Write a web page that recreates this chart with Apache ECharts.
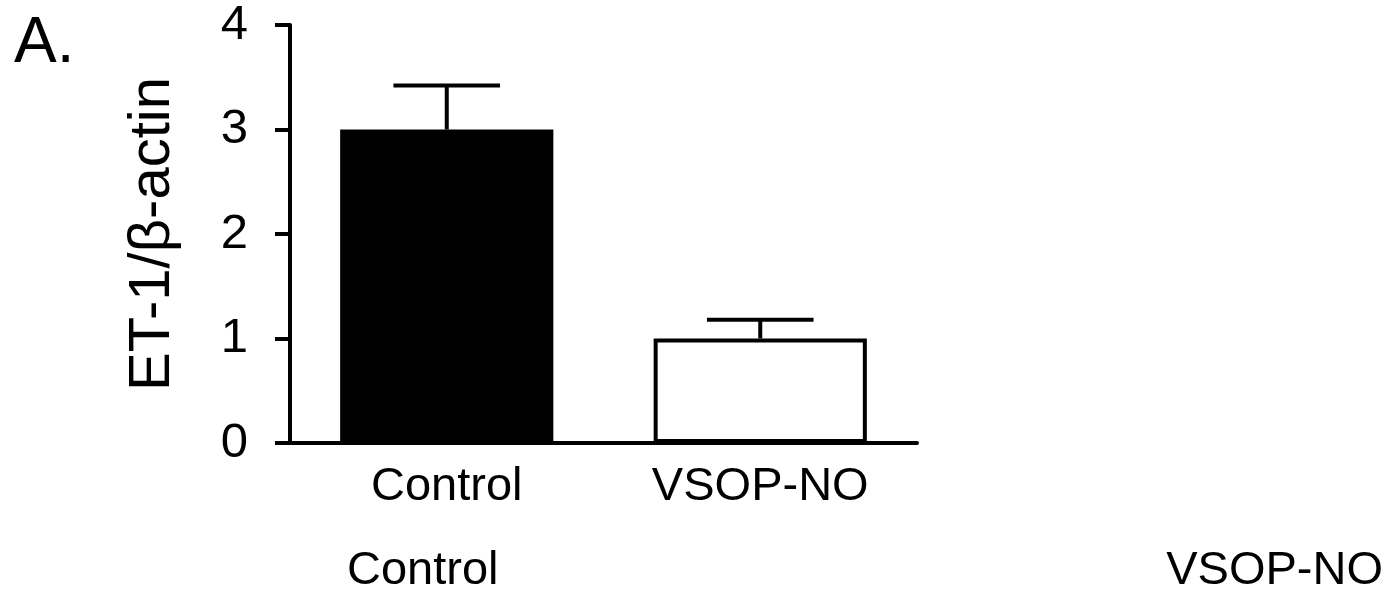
<!DOCTYPE html>
<html>
<head>
<meta charset="utf-8">
<script src="https://cdn.jsdelivr.net/npm/echarts@6/dist/echarts.min.js"></script>
<style>
  html, body { margin: 0; padding: 0; background: #fff; }
  #main { width: 1389px; height: 600px; }
</style>
</head>
<body>
<div id="main"></div>
<script>
// data
var categories = ['Control', 'VSOP-NO'];
var meanValues = [3.0, 1.0];
var semValues = [0.42, 0.18];
var barFills = ['#000000', '#ffffff'];
var yTicks = [0, 1, 2, 3, 4];

var font = 'Liberation Sans, Arial, Helvetica, sans-serif';

var chart = echarts.init(document.getElementById('main'));

var option = {
  backgroundColor: '#fff',
  animation: false,
  grid: { left: 290, right: 472, top: 25, bottom: 157 },
  xAxis: {
    type: 'category',
    data: categories,
    axisLine: { lineStyle: { color: '#000', width: 4 } },
    axisTick: { alignWithLabel: true, length: 12, lineStyle: { color: '#000', width: 4 } },
    axisLabel: { color: '#000', fontSize: 47, fontFamily: font, margin: 21 }
  },
  yAxis: {
    type: 'value',
    min: yTicks[0],
    max: yTicks[yTicks.length - 1],
    interval: 1,
    name: 'ET-1/β-actin',
    nameLocation: 'middle',
    nameGap: 108,
    nameTextStyle: { color: '#000', fontSize: 58, fontFamily: font },
    axisLine: { show: true, lineStyle: { color: '#000', width: 4 } },
    axisTick: { show: true, length: 15, lineStyle: { color: '#000', width: 4 } },
    axisLabel: { color: '#000', fontSize: 49, fontFamily: font, margin: 42 },
    splitLine: { show: false }
  },
  graphic: [
    { type: 'text', left: 14, top: 12,
      style: { text: 'A.', font: '64px ' + font, fill: '#000' } },
    { type: 'text', left: 347, top: 548,
      style: { text: 'Control', font: '47px ' + font, fill: '#000' } },
    { type: 'text', right: 6, top: 548,
      style: { text: 'VSOP-NO', font: '47px ' + font, fill: '#000' } }
  ],
  series: [
    {
      type: 'bar',
      barWidth: '68%',
      data: meanValues.map(function (v, i) {
        return {
          value: v,
          itemStyle: { color: barFills[i], borderColor: '#000', borderWidth: 4 }
        };
      })
    },
    {
      type: 'custom',
      z: 1,
      data: meanValues.map(function (v, i) { return [i, v, v + semValues[i]]; }),
      renderItem: function (params, api) {
        var x = api.value(0);
        var base = api.coord([x, api.value(1)]);
        var top = api.coord([x, api.value(2)]);
        var half = api.size([1, 0])[0] * 0.17;
        var st = { stroke: '#000', lineWidth: 4 };
        return {
          type: 'group',
          children: [
            { type: 'line', shape: { x1: base[0], y1: base[1], x2: top[0], y2: top[1] }, style: st },
            { type: 'line', shape: { x1: top[0] - half, y1: top[1], x2: top[0] + half, y2: top[1] }, style: st }
          ]
        };
      }
    }
  ]
};

chart.setOption(option);
</script>
</body>
</html>
